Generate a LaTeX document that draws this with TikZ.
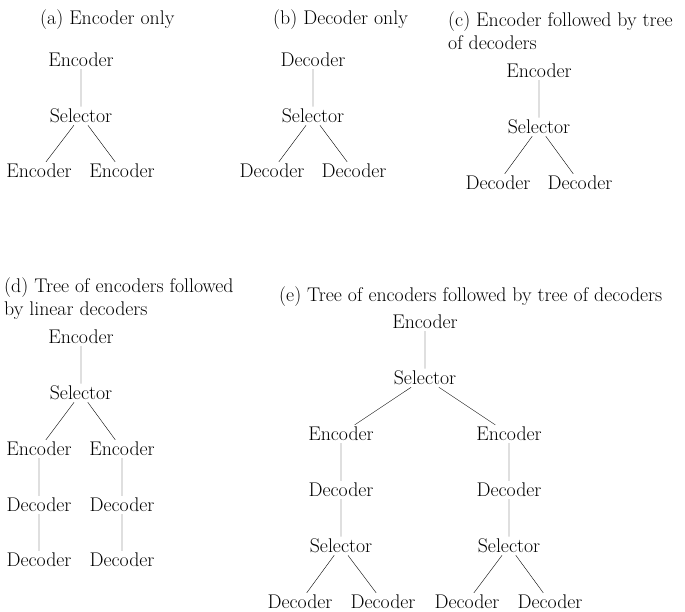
\documentclass[tikz,border=0pt]{standalone}
\begin{document}
\begin{tikzpicture}[x=1pt,y=-1pt,font=\fontsize{19.8}{23}\selectfont,
  nd/.style={inner sep=2pt},
  ttl/.style={inner sep=0pt,align=left,anchor=west}]
\useasboundingbox (0,0) rectangle (685,612);
% titles
\node[ttl] (ta) at (40,20) {(a) Encoder only};
\node[ttl] (tb) at (273,20) {(b) Decoder only};
\node[ttl] (tc) at (448,31) {(c) Encoder followed by tree\\of decoders};
\node[ttl] (td) at (4,299) {(d) Tree of encoders followed\\by linear decoders};
\node[ttl] (te) at (279,297) {(e) Tree of encoders followed by tree of decoders};
% (a)
\node[nd] (a1) at (81,60) {Encoder};
\node[nd] (a2) at (81,116) {Selector};
\node[nd] (a3) at (39,171) {Encoder};
\node[nd] (a4) at (122,171) {Encoder};
\draw (a1)--(a2) (a2)--(a3) (a2)--(a4);
% (b)
\node[nd] (b1) at (313,60) {Decoder};
\node[nd] (b2) at (313,116) {Selector};
\node[nd] (b3) at (272,171) {Decoder};
\node[nd] (b4) at (354,171) {Decoder};
\draw (b1)--(b2) (b2)--(b3) (b2)--(b4);
% (c)
\node[nd] (c1) at (539,71) {Encoder};
\node[nd] (c2) at (539,127) {Selector};
\node[nd] (c3) at (498,183) {Decoder};
\node[nd] (c4) at (580,183) {Decoder};
\draw (c1)--(c2) (c2)--(c3) (c2)--(c4);
% (d)
\node[nd] (d1) at (81,337) {Encoder};
\node[nd] (d2) at (81,393) {Selector};
\node[nd] (d3) at (39,449) {Encoder};
\node[nd] (d4) at (122,449) {Encoder};
\node[nd] (d5) at (39,505) {Decoder};
\node[nd] (d6) at (122,505) {Decoder};
\node[nd] (d7) at (39,560) {Decoder};
\node[nd] (d8) at (122,560) {Decoder};
\draw (d1)--(d2) (d2)--(d3) (d2)--(d4) (d3)--(d5) (d4)--(d6) (d5)--(d7) (d6)--(d8);
% (e)
\node[nd] (e1) at (425,322) {Encoder};
\node[nd] (e2) at (425,378) {Selector};
\node[nd] (e3) at (341,434) {Encoder};
\node[nd] (e4) at (509,434) {Encoder};
\node[nd] (e5) at (341,490) {Decoder};
\node[nd] (e6) at (509,490) {Decoder};
\node[nd] (e7) at (341,546) {Selector};
\node[nd] (e8) at (509,546) {Selector};
\node[nd] (e9) at (300,602) {Decoder};
\node[nd] (e10) at (383,602) {Decoder};
\node[nd] (e11) at (467,602) {Decoder};
\node[nd] (e12) at (550,602) {Decoder};
\draw (e1)--(e2) (e2)--(e3) (e2)--(e4) (e3)--(e5) (e4)--(e6) (e5)--(e7) (e6)--(e8)
  (e7)--(e9) (e7)--(e10) (e8)--(e11) (e8)--(e12);
\end{tikzpicture}
\end{document}
